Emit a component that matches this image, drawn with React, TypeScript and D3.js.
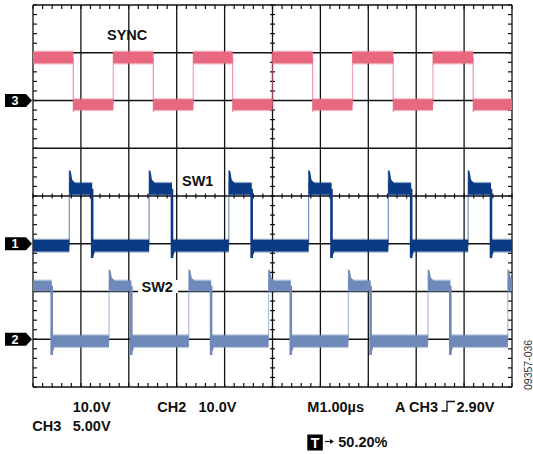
import React from 'react';
import * as d3 from 'd3';

const W = 533;
const H = 454;

// time axis in µs (M1.00µs per division), 10 divisions
const timeDomain = [0, 10];
// vertical divisions
const divDomain = [-4, 4];

// SYNC (CH3, 5 V/div)
const syncRises = [1.676, 3.346, 5.0, 6.67, 8.35];
const syncFalls = [0.841, 2.512, 4.169, 5.839, 7.52, 9.19];
// SW1 (CH1, 10 V/div)
const sw1Rises = [0.758, 2.424, 4.088, 5.754, 7.418, 9.084];
const sw1Falls = [1.235, 2.901, 4.565, 6.231, 7.895, 9.561];
// SW2 (CH2, 10 V/div)
const sw2Rises = [1.587, 3.253, 4.917, 6.583, 8.247, 9.913];
const sw2Falls = [0.39, 2.052, 3.718, 5.382, 7.048, 8.712];

const channelNames = ['SYNC', 'SW1', 'SW2'];
const channelMarkers = ['3', '1', '2'];
const voltsPerDiv = [5, 10, 10];
const groundDiv = [2, -1, -3];
const highLevels = [4.5, 11.5, 11.2];
const lowLevels = [-0.44, -0.4, -0.4];
const highNoise = [0.6, 1.2, 1.05];
const lowNoise = [0.55, 1.2, 1.2];
const spikePeaks = [5.3, 15.4, 14.6];
const undershoots = [-1.2, -3.0, -3.3];
const startHigh = [true, false, true];
const colors = ['#e8687f', '#0b3a84', '#6f89b9'];

const bottomRow1 = [
  { t: '10.0V', x: 72.7 },
  { t: 'CH2', x: 157.3 },
  { t: '10.0V', x: 198.5 },
  { t: 'M1.00µs', x: 307.3 },
  { t: 'A CH3', x: 395 },
  { t: '2.90V', x: 456.5 },
];
const bottomRow2 = [
  { t: 'CH3', x: 32.3 },
  { t: '5.00V', x: 72.7 },
];
const triggerText = '50.20%';
const figId = '09357-036';

const PL = 33, PR = 512, PT = 5, PB = 387;

export default function App() {
  const x = d3.scaleLinear().domain(timeDomain).range([PL, PR]);
  const yDiv = d3.scaleLinear().domain(divDomain).range([PB, PT]);
  const font = "'Liberation Sans', Arial, Helvetica, sans-serif";

  const vLines = d3.range(timeDomain[0], timeDomain[1] + 1);
  const hLines = d3.range(divDomain[0], divDomain[1] + 1);
  const minorX = d3.range(0, 50 + 1).map((i) => i / 5);
  const minorY = d3.range(0, 40 + 1).map((i) => -4 + i / 5);

  const channels = channelNames.map((name, i) => {
    const yv = (v: number) => yDiv(groundDiv[i] + v / voltsPerDiv[i]);
    const edges = [
      ...(i === 0 ? syncRises : i === 1 ? sw1Rises : sw2Rises).map((t) => ({ t, r: true })),
      ...(i === 0 ? syncFalls : i === 1 ? sw1Falls : sw2Falls).map((t) => ({ t, r: false })),
    ].sort((a, b) => a.t - b.t);
    const bounds = [timeDomain[0], ...edges.map((e) => e.t), timeDomain[1]];
    let high = startHigh[i];
    const segs: { t0: number; t1: number; high: boolean }[] = [];
    for (let k = 0; k < bounds.length - 1; k++) {
      segs.push({ t0: bounds[k], t1: bounds[k + 1], high });
      high = !high;
    }
    return { name, i, yv, edges, segs };
  });

  return (
    <svg width={W} height={H} style={{ position: 'absolute', left: 0, top: 0, background: '#fff' }}>
      <defs>
        <clipPath id="plotclip">
          <rect x={PL} y={PT} width={PR - PL} height={PB - PT} />
        </clipPath>
      </defs>
      <rect x={0} y={0} width={W} height={H} fill="#fff" />
      {/* grid */}
      <g stroke="#111" strokeWidth={1.3}>
        {vLines.map((d) => (
          <line key={'v' + d} x1={x(d)} x2={x(d)} y1={PT} y2={PB} />
        ))}
        {hLines.map((d) => (
          <line key={'h' + d} x1={PL} x2={PR} y1={yDiv(d)} y2={yDiv(d)} />
        ))}
      </g>
      <g stroke="#111" strokeWidth={1.2}>
        {minorX.map((d, k) => (
          <g key={'mx' + k}>
            <line x1={x(d)} x2={x(d)} y1={PT} y2={PT + 4} />
            <line x1={x(d)} x2={x(d)} y1={PB} y2={PB - 4} />
            <line x1={x(d)} x2={x(d)} y1={yDiv(0) - 2.5} y2={yDiv(0) + 2.5} />
          </g>
        ))}
        {minorY.map((d, k) => (
          <g key={'my' + k}>
            <line x1={PL} x2={PL + 4} y1={yDiv(d)} y2={yDiv(d)} />
            <line x1={PR} x2={PR - 4} y1={yDiv(d)} y2={yDiv(d)} />
            <line x1={x(5) - 2.5} x2={x(5) + 2.5} y1={yDiv(d)} y2={yDiv(d)} />
          </g>
        ))}
      </g>
      {/* traces */}
      <g clipPath="url(#plotclip)">
        {channels.map(({ i, yv, edges, segs }) => {
          const c = colors[i];
          const isSw = i > 0;
          return (
            <g key={'ch' + i}>
              {segs.map((s, k) => {
                const L = s.high ? highLevels[i] : lowLevels[i];
                const n = s.high ? highNoise[i] : lowNoise[i];
                return (
                  <g key={'s' + k}>
                    <rect x={x(s.t0)} width={x(s.t1) - x(s.t0)} y={yv(L + n) - 1.2} height={yv(L - n) - yv(L + n) + 2.4} fill={c} opacity={0.45} />
                    <rect x={x(s.t0)} width={x(s.t1) - x(s.t0)} y={yv(L + n)} height={yv(L - n) - yv(L + n)} fill={c} />
                  </g>
                );
              })}
              {edges.map((e, k) => {
                const xe = x(e.t);
                if (e.r) {
                  const top = isSw ? spikePeaks[i] : highLevels[i] + highNoise[i];
                  return (
                    <g key={'e' + k}>
                      <line x1={xe} x2={xe} y1={yv(lowLevels[i])} y2={yv(top)} stroke={c} strokeWidth={1.2} opacity={isSw ? 0.55 : 0.6} />
                      {isSw && (
                        <path
                          d={`M${xe},${yv(highLevels[i])} L${xe},${yv(spikePeaks[i])} L${xe + 1.5},${yv(spikePeaks[i]) + 1} L${x(e.t + 0.06)},${yv(highLevels[i] + highNoise[i] * 1.6)} L${x(e.t + 0.12)},${yv(highLevels[i] + highNoise[i])} L${x(e.t + 0.12)},${yv(highLevels[i])} Z`}
                          fill={c}
                        />
                      )}
                    </g>
                  );
                }
                return (
                  <g key={'e' + k}>
                    <line x1={xe} x2={xe} y1={yv(highLevels[i])} y2={yv(undershoots[i])} stroke={c} strokeWidth={isSw ? 2.6 : 1.2} opacity={isSw ? 1 : 0.7} />
                    {isSw && (
                      <path
                        d={`M${xe},${yv(lowLevels[i])} L${xe},${yv(undershoots[i])} L${x(e.t + 0.05)},${yv(lowLevels[i] - lowNoise[i] * 1.3)} L${x(e.t + 0.05)},${yv(lowLevels[i])} Z`}
                        fill={c}
                      />
                    )}
                  </g>
                );
              })}
            </g>
          );
        })}
      </g>
      {/* channel markers */}
      {channels.map(({ i, yv }) => {
        const yc = yv(0);
        return (
          <g key={'m' + i}>
            <path d={`M5,${yc - 6.5} L26,${yc - 6.5} L32,${yc} L26,${yc + 6.5} L5,${yc + 6.5} Z`} fill="#000" />
            <text x={15} y={yc + 4.5} fill="#fff" fontFamily={font} fontWeight="bold" fontSize={12.5} textAnchor="middle">
              {channelMarkers[i]}
            </text>
          </g>
        );
      })}
      {/* trace labels */}
      <g fontFamily={font} fontWeight="bold" fontSize={14.5} fill="#111">
        <text x={107} y={40}>{channelNames[0]}</text>
        <text x={182} y={186}>{channelNames[1]}</text>
        <rect x={138} y={280} width={40} height={13} fill="#fff" />
        <text x={141.5} y={291.5}>{channelNames[2]}</text>
      </g>
      {/* bottom readouts */}
      <g fontFamily={font} fontWeight="bold" fontSize={14.5} fill="#111">
        {bottomRow1.map((d, k) => (
          <text key={'b1' + k} x={d.x} y={411.5}>{d.t}</text>
        ))}
        {bottomRow2.map((d, k) => (
          <text key={'b2' + k} x={d.x} y={430.5}>{d.t}</text>
        ))}
        <path d="M441.5,411 L447,411 L447,401.5 L455,401.5" fill="none" stroke="#111" strokeWidth={1.3} />
        <rect x={307.3} y={434.5} width={15.5} height={16} fill="#000" />
        <text x={315} y={447.5} fill="#fff" textAnchor="middle" fontSize={14}>T</text>
        <line x1={325} x2={331} y1={441.5} y2={441.5} stroke="#111" strokeWidth={1.2} />
        <path d="M334,441.5 L330,439 L330,444 Z" fill="#111" />
        <text x={338.3} y={447.3}>{triggerText}</text>
      </g>
      <text transform="translate(532,390) rotate(-90)" fontFamily={font} fontSize={10.5} fill="#333">
        {figId}
      </text>
    </svg>
  );
}
